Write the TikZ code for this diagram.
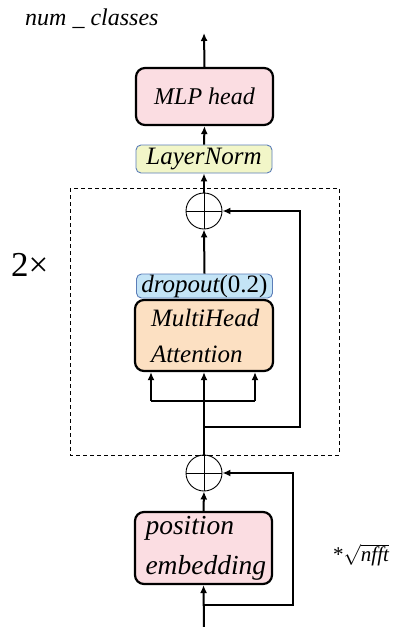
\documentclass[tikz,border=0pt]{standalone}
\usepackage{fontspec}
\setmainfont{Liberation Serif}
\usetikzlibrary{arrows.meta}

\definecolor{pinkfill}{HTML}{FBDDE2}
\definecolor{yellowfill}{HTML}{F2F6C8}
\definecolor{bluefill}{HTML}{C4E4F6}
\definecolor{peachfill}{HTML}{FCE0C2}
\definecolor{thinblue}{HTML}{5B7DB8}

\begin{document}
\begin{tikzpicture}[x=1pt,y=-1pt,
        block/.style={draw,line width=2.2pt,rounded corners=9pt,inner sep=0pt,font=\fontsize{24}{24}\selectfont\itshape},
        slim/.style={draw=thinblue,line width=0.9pt,rounded corners=5pt,inner sep=0pt,font=\fontsize{25}{25}\selectfont\itshape},
        addop/.style={circle,draw,line width=0.9pt,minimum size=36pt,inner sep=0pt,
            path picture={\draw[line width=0.7pt] (path picture bounding box.north) -- (path picture bounding box.south)
                (path picture bounding box.west) -- (path picture bounding box.east);}},
        link/.style={line width=2pt},
        arr/.style={line width=2pt,-{Latex[length=8pt,width=7pt]}},
        skip/.style={line width=2.8pt,-{Latex[length=8pt,width=7pt]}}
    ]
        \useasboundingbox (0,0) rectangle (396,627);

        % Define the nodes
        \node[block,fill=pinkfill,minimum width=137pt,minimum height=57pt] (mlp) at (204.5,96.5) {MLP head};
        \node[slim,fill=yellowfill,minimum width=136pt,minimum height=28pt] (norm) at (204,159) {LayerNorm};
        \node[addop] (add1) at (204,211) {};
        \node[slim,fill=bluefill,minimum width=136pt,minimum height=24pt] (drop) at (204.5,286) {dropout\upshape(0.2)};
        \node[block,fill=peachfill,minimum width=138pt,minimum height=71pt,text width=106pt,align=left,
            font=\fontsize{25}{36}\selectfont\itshape] (mha) at (204,335.5) {MultiHead\\Attention};
        \node[addop] (add2) at (204,473) {};
        \node[block,fill=pinkfill,minimum width=137pt,minimum height=72pt,text width=116pt,align=left,
            font=\fontsize{27.5}{40}\selectfont\itshape] (pos) at (203.5,548) {position\\embedding};

        \coordinate (out) at (204,33);
        \coordinate (in) at (204,627);
        \coordinate (split1) at (204,427);
        \coordinate (split2) at (204,605);
        \coordinate (qleft) at (151,401);
        \coordinate (qright) at (255,401);

        % Labels
        \node[anchor=base west,inner sep=0pt,font=\fontsize{24}{24}\selectfont\itshape] (nclass) at (25,25) {num \_ classes};
        \node[anchor=base west,inner sep=0pt,font=\fontsize{35}{35}\selectfont] (rep) at (11,276) {2×};
        \node[anchor=base west,inner sep=0pt,font=\fontsize{21}{21}\selectfont] (scale) at (333,561) {*$\sqrt{\hbox{\itshape nfft}}$};

        % Encoder block
        \draw[dashed,line width=0.8pt,dash pattern=on 4pt off 3pt] (70,188) rectangle (339,455);

        % Main flow
        \draw[arr] (in) -- (pos.south);
        \draw[arr] (pos.north) -- (add2.south);
        \draw[arr] (add2.north) -- (mha.south);
        \draw[arr] (drop.north) -- (add1.south);
        \draw[arr] (add1.north) -- (norm.south);
        \draw[arr] (norm.north) -- (mlp.south);
        \draw[arr] (mlp.north) -- (out);

        % Query, key, value
        \draw[link] (qleft) -- (qright);
        \draw[arr] (qleft) -- (qleft |- mha.south);
        \draw[arr] (qright) -- (qright |- mha.south);

        % Residual paths
        \draw[skip] (split1) -- ++(96,0) |- (add1.east);
        \draw[skip] (split2) -- ++(89,0) |- (add2.east);
\end{tikzpicture}
\end{document}
